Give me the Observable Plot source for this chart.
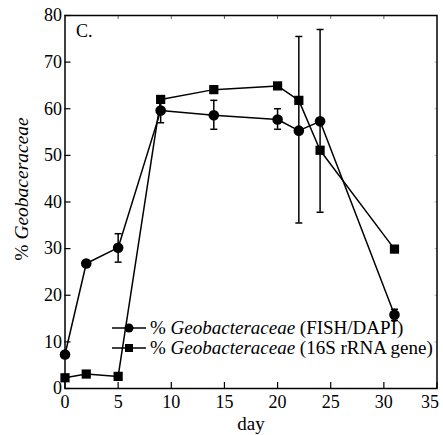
<!DOCTYPE html>
<html><head><meta charset="utf-8">
<script src="https://cdn.jsdelivr.net/npm/d3@7"></script>
<script src="https://cdn.jsdelivr.net/npm/@observablehq/plot@0.6"></script>
<style>
html,body{margin:0;padding:0;background:#fff;}
#wrap{position:relative;width:443px;height:435px;font-family:"Liberation Serif",Tinos,"Times New Roman",Times,"DejaVu Serif",serif;color:#000;}
#wrap svg{display:block;overflow:visible;}
.ylab{position:absolute;left:22px;top:189px;transform:translate(-50%,-50%) rotate(-90deg);white-space:nowrap;font-size:19.5px;}
.leg{position:absolute;left:110px;font-size:19px;white-space:nowrap;display:flex;align-items:center;height:20px;}
.leg svg{margin-right:2px;}
</style></head><body>
<div id="wrap"></div>
<script>
// ---- data ----
const days = [0, 2, 5, 9, 14, 20, 22, 24, 31];
const fishPct = [7.3, 26.8, 30.2, 59.6, 58.6, 57.7, 55.3, 57.3, 15.8];
const fishErrLo = [null, null, 27.1, 57.0, 55.6, 55.6, 35.5, 37.8, 14.6];
const fishErrHi = [null, null, 33.2, 62.1, 61.8, 60.0, 75.5, 77.0, 17.0];
const genePct = [2.3, 3.1, 2.6, 62.0, 64.1, 64.9, 61.8, 51.1, 29.9];
const xTicks = [0, 5, 10, 15, 20, 25, 30, 35];
const yTicks = [0, 10, 20, 30, 40, 50, 60, 70, 80];
const seriesNames = ["FISH/DAPI", "16S rRNA gene"];
const panelLabel = "C.";
const xLabel = "day";

const FONT = '"Liberation Serif",Tinos,"Times New Roman",Times,"DejaVu Serif",serif';
const fish = days.map((d, i) => ({day: d, pct: fishPct[i], lo: fishErrLo[i], hi: fishErrHi[i]}));
const gene = days.map((d, i) => ({day: d, pct: genePct[i]}));
const fishErr = fish.filter(d => d.lo != null);

const capSymbol = {draw(ctx, size) { const r = Math.sqrt(size / Math.PI); ctx.moveTo(-r, 0); ctx.lineTo(r, 0); }};

const chart = Plot.plot({
  width: 443, height: 435,
  marginLeft: 64.5, marginRight: 6.5, marginTop: 15, marginBottom: 47,
  style: {fontFamily: FONT, fontSize: "18px", color: "black", background: "white", overflow: "visible"},
  x: {domain: [0, 35]},
  y: {domain: [0, 80]},
  marks: [
    Plot.axisX(xTicks, {tickSize: -6, tickPadding: 13, tickFormat: d => d === 35 ? "" : String(d), label: null, strokeWidth: 1.2}),
    Plot.axisX(xTicks.slice(-1), {tickSize: 0, tickPadding: 7, dx: -7, label: null}),
    Plot.axisX(xTicks.slice(1, -1), {anchor: "top", tickSize: -3, tickFormat: () => "", label: null, stroke: "#666"}),
    Plot.axisY(yTicks, {tickSize: -6, tickPadding: 9, label: null, strokeWidth: 1.2}),
    Plot.axisY(yTicks.slice(1, -1), {anchor: "right", tickSize: -3, tickFormat: () => "", label: null, stroke: "#bbb"}),
    Plot.frame({stroke: "black", strokeWidth: 1.5}),
    Plot.ruleX(fishErr, {x: "day", y1: "lo", y2: "hi", stroke: "black", strokeWidth: 1.5}),
    Plot.dot(fishErr, {x: "day", y: "lo", symbol: capSymbol, r: 3.5, stroke: "black", strokeWidth: 1.5, fill: "none"}),
    Plot.dot(fishErr, {x: "day", y: "hi", symbol: capSymbol, r: 3.5, stroke: "black", strokeWidth: 1.5, fill: "none"}),
    Plot.line(fish, {x: "day", y: "pct", stroke: "black", strokeWidth: 1.5}),
    Plot.line(gene, {x: "day", y: "pct", stroke: "black", strokeWidth: 1.5}),
    Plot.dot(fish, {x: "day", y: "pct", symbol: "circle", r: 5.3, fill: "black", stroke: "none"}),
    Plot.dot(gene, {x: "day", y: "pct", symbol: "square", r: 5.2, fill: "black", stroke: "none"}),
    Plot.text([panelLabel], {frameAnchor: "top-left", dx: 11, dy: 16, lineAnchor: "middle", textAnchor: "start", fontSize: 18}),
    Plot.text([xLabel], {frameAnchor: "bottom", dy: 35.5, lineAnchor: "middle", fontSize: 19})
  ]
});
const wrap = document.getElementById("wrap");
wrap.appendChild(chart);

const ylab = document.createElement("div");
ylab.className = "ylab";
ylab.innerHTML = "% <i>Geobaceraceae</i>";
wrap.appendChild(ylab);

const legTops = [318, 338];
const legSyms = ['<circle cx="19" cy="10" r="4.5" fill="black"/>', '<rect x="15" y="6" width="8" height="8" fill="black"/>'];
seriesNames.forEach((name, i) => {
  const row = document.createElement("div");
  row.className = "leg";
  row.style.top = legTops[i] + "px";
  row.innerHTML = `<svg width="38" height="20"><line x1="2" x2="36" y1="10" y2="10" stroke="black" stroke-width="1.5"/>${legSyms[i]}</svg><span>% <i>Geobacteraceae</i> (${name})</span>`;
  wrap.appendChild(row);
});
</script>
</body></html>
